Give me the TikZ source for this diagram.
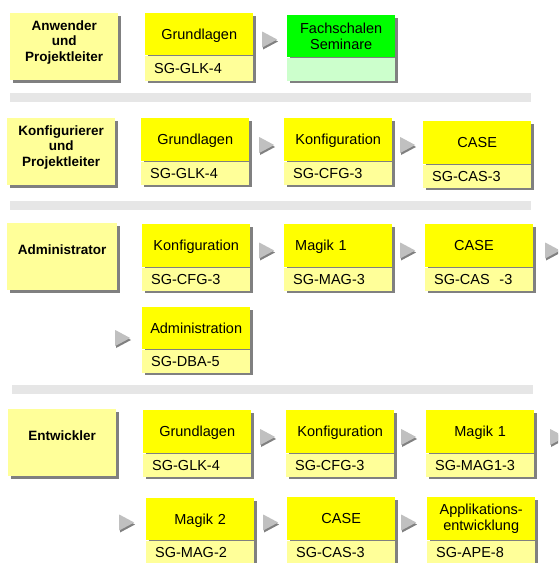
\documentclass[tikz,border=0pt]{standalone}
\usepackage{fontspec}
\setmainfont{Liberation Sans}
\usepackage{tikz}
\usetikzlibrary{positioning, shapes.geometric, shadows}
\definecolor{gelb}{HTML}{FFFF00}
\definecolor{hellgelb}{HTML}{FFFF99}
\definecolor{gruen}{HTML}{00FF00}
\definecolor{hellgruen}{HTML}{CCFFCC}
\definecolor{trenner}{HTML}{E6E6E6}
\definecolor{schatten}{HTML}{808080}
\definecolor{pfeilgrau}{HTML}{C0C0C0}
\tikzset{schattig/.style={drop shadow={shadow xshift=2.5pt, shadow yshift=-2.5pt, fill=schatten, opacity=1}}}
\tikzset{
    rolle/.style={schattig, fill=hellgelb, minimum width=108pt, minimum height=67pt, inner sep=0pt,
        anchor=north west, align=center, font=\fontsize{13.5}{15.5}\selectfont\bfseries},
    kopf/.style={schattig, fill=gelb, text width=94pt, inner xsep=7pt, inner ysep=0pt, minimum height=43pt,
        text depth=0pt, anchor=north west, align=center, font=\fontsize{14.5}{16}\selectfont},
    kode/.style={schattig, fill=hellgelb, text width=90pt, inner xsep=9pt, inner ysep=0pt, minimum height=23pt,
        align=left, font=\fontsize{14.5}{16}\selectfont},
    pfeil/.style={isosceles triangle, isosceles triangle stretches, minimum width=16pt, minimum height=15pt,
        inner sep=0pt, fill=pfeilgrau, anchor=west,
        drop shadow={shadow xshift=0.8pt, shadow yshift=-2pt, fill=schatten, opacity=1}},
    balken/.style={fill=trenner},
}
\begin{document}
\begin{tikzpicture}[x=1pt, y=-1pt]
                      \useasboundingbox (0,0) rectangle (558,563);
                      \clip (0,0) rectangle (558,563);

                      \node[rolle, text depth=12pt] (anw) at (10,13) {Anwender\\und\\Projektleiter};
                      \node[kopf, minimum height=42pt] (glk1) at (145,13) {Grundlagen};
                      \node[kode, minimum height=25pt, below=0pt of glk1] (glk1k) {SG-GLK-4};
                      \node[pfeil] (p11) at (262,39.5) {};
                      \node[kopf, fill=gruen, minimum height=42pt, text depth={}] (fach) at (287,15) {Fachschalen\\Seminare};
                      \node[kode, fill=hellgruen, below=0pt of fach] (fachk) {};
                      \fill[balken] (10,93) rectangle (531,102);

                      \node[rolle, text depth=12pt] (konf) at (7,118) {Konfigurierer\\und\\Projektleiter};
                      \node[kopf] (glk2) at (141,118) {Grundlagen};
                      \node[kode, below=0pt of glk2] (glk2k) {SG-GLK-4};
                      \node[pfeil] (p21) at (259,145) {};
                      \node[kopf] (cfg2) at (284,118) {Konfiguration};
                      \node[kode, below=0pt of cfg2] (cfg2k) {SG-CFG-3};
                      \node[pfeil] (p22) at (400,145) {};
                      \node[kopf] (cas2) at (423,121) {CASE};
                      \node[kode, below=0pt of cas2] (cas2k) {SG-CAS-3};
                      \fill[balken] (10,201) rectangle (531,210);

                      \node[rolle, minimum width=110pt, text depth=15pt] (adm) at (7,223) {Administrator};
                      \node[kopf] (cfg3) at (142,224) {Konfiguration};
                      \node[kode, below=0pt of cfg3] (cfg3k) {SG-CFG-3};
                      \node[pfeil] (p31) at (259,250.5) {};
                      \node[kopf, align=left] (mag3) at (284,224) {\hspace*{4pt}Magik 1};
                      \node[kode, below=0pt of mag3] (mag3k) {SG-MAG-3};
                      \node[pfeil] (p32) at (400,250.5) {};
                      \node[kopf, align=left] (cas3) at (425,224) {\hspace*{22pt}CASE};
                      \node[kode, below=0pt of cas3] (cas3k) {SG-CAS~~-3};
                      \node[pfeil] (p33) at (545,250.5) {};
                      \node[pfeil] (p34) at (115,338) {};
                      \node[kopf, minimum height=42pt] (dba3) at (142,307) {Administration};
                      \node[kode, below=0pt of dba3] (dba3k) {SG-DBA-5};
                      \fill[balken] (12,385) rectangle (533,394);

                      \node[rolle, text depth=15pt] (ent) at (8,409) {Entwickler};
                      \node[kopf] (glk4) at (143,410) {Grundlagen};
                      \node[kode, below=0pt of glk4] (glk4k) {SG-GLK-4};
                      \node[pfeil] (p41) at (260,437) {};
                      \node[kopf] (cfg4) at (286,410) {Konfiguration};
                      \node[kode, below=0pt of cfg4] (cfg4k) {SG-CFG-3};
                      \node[pfeil] (p42) at (401,437) {};
                      \node[kopf] (mag4) at (426,410) {Magik 1};
                      \node[kode, below=0pt of mag4] (mag4k) {SG-MAG1-3};
                      \node[pfeil] (p43) at (550,437) {};
                      \node[pfeil] (p44) at (119,522.5) {};
                      \node[kopf, minimum height=42pt] (mag24) at (146,498) {Magik 2};
                      \node[kode, below=0pt of mag24] (mag24k) {SG-MAG-2};
                      \node[pfeil] (p45) at (263,522.5) {};
                      \node[kopf] (cas4) at (287,497) {CASE};
                      \node[kode, below=0pt of cas4] (cas4k) {SG-CAS-3};
                      \node[pfeil] (p46) at (401,522.5) {};
                      \node[kopf, text depth={}] (ape4) at (427,497) {Applikations-\\entwicklung};
                      \node[kode, below=0pt of ape4] (ape4k) {SG-APE-8};
\end{tikzpicture}
\end{document}
